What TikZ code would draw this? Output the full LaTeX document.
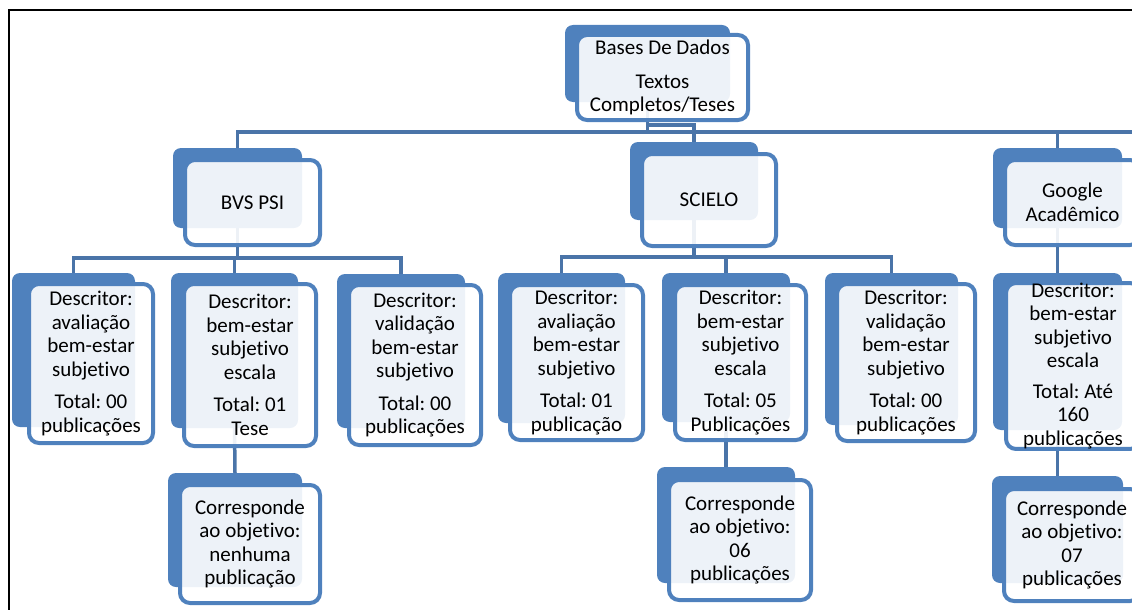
\documentclass[tikz,border=0pt]{standalone}
\usepackage{fontspec}
\setmainfont{Carlito}[Ligatures=NoCommon]
\usepackage{tikz}
\usetikzlibrary{backgrounds}
\frenchspacing
\definecolor{boxblue}{HTML}{4F81BD}
\definecolor{lineblue}{HTML}{4A74A8}
\tikzstyle{shadowbox}=[fill=boxblue,rounded corners=8pt,inner sep=0pt]
\tikzstyle{textbox}=[draw=boxblue,line width=4pt,fill=white,fill opacity=0.9,text opacity=1,rounded corners=10pt,inner sep=0pt,align=center,font=\fontsize{21}{23.5}\selectfont]
\tikzstyle{link}=[draw=lineblue,line width=3.5pt]

\begin{document}
\begin{tikzpicture}[x=1pt,y=-1pt]
      \useasboundingbox (0,0) rectangle (1132,610);
      \draw[line width=2pt] (1140,10.5) -- (9,10.5) -- (9,620);

      % shadow shapes
      \node[shadowbox,minimum width=165,minimum height=77] (bases) at (647.5,63.5) {};
      \node[shadowbox,minimum width=129,minimum height=80] (bvs) at (237.5,188) {};
      \node[shadowbox,minimum width=128,minimum height=78] (scielo) at (694,181) {};
      \node[shadowbox,minimum width=129,minimum height=80] (google) at (1057.5,188) {};
      \node[shadowbox,minimum width=123,minimum height=154] (a1) at (73.5,350) {};
      \node[shadowbox,minimum width=127,minimum height=155] (a2) at (234.5,350.5) {};
      \node[shadowbox,minimum width=134,minimum height=114] (a2c) at (235,530) {};
      \node[shadowbox,minimum width=128,minimum height=154] (a3) at (401,351) {};
      \node[shadowbox,minimum width=127,minimum height=150] (b1) at (561.5,348) {};
      \node[shadowbox,minimum width=128,minimum height=149] (b2) at (726,347.5) {};
      \node[shadowbox,minimum width=138,minimum height=116] (b2c) at (726,525) {};
      \node[shadowbox,minimum width=133,minimum height=152] (b3) at (891.5,349) {};
      \node[shadowbox,minimum width=129,minimum height=157] (c1) at (1057.5,351.5) {};
      \node[shadowbox,minimum width=131,minimum height=107] (c1c) at (1057.5,529.5) {};

      % connectors
      \begin{scope}[on background layer]
        \coordinate (bus1) at (1140,132);
        \coordinate (bus2) at (0,258);
        \coordinate (bus3) at (0,257);
        \draw[link] (bases.south) -- (bases.south |- bus1);
        \draw[link] (scielo.north) -- ++(0,-17) -| (bases.south);
        \draw[link] (bvs.north) |- (bus1);
        \draw[link] (google.north) -- (google.north |- bus1);
        \draw[link] (a1.north) |- (bus2 -| a3.north) -- (a3.north);
        \draw[link] (bvs.south) -- (bvs.south |- bus2);
        \draw[link] (a2.north) -- (a2.north |- bus2);
        \draw[link] (b1.north) |- (bus3 -| b3.north) -- (b3.north);
        \draw[link] (scielo.south) -- (scielo.south |- bus3);
        \draw[link] (b2.north) -- (b2.north |- bus3);
        \draw[link] (google.south) -- (c1.north);
        \draw[link] (a2.south) -- (a2c.north);
        \draw[link] (b2.south) -- (b2c.north);
        \draw[link] (c1.south) -- (c1c.north);
      \end{scope}

      % text boxes
      \node[textbox,minimum width=171,minimum height=85] (basest) at (662.5,77.5) {Bases De Dados\\[10pt]Textos\\Completos/Teses};
      \node[textbox,minimum width=135,minimum height=85] (bvst) at (252.5,202.5) {BVS PSI};
      \node[textbox,minimum width=134,minimum height=92] (scielot) at (709,200) {SCIELO};
      \node[textbox,minimum width=135,minimum height=85] (googlet) at (1072.5,202.5) {Google\\Acadêmico};
      \node[textbox,minimum width=124,minimum height=159] (a1t) at (91,363.5) {Descritor:\\avaliação\\bem-estar\\subjetivo\\[9pt]Total: 00\\publicações};
      \node[textbox,minimum width=132,minimum height=162] (a2t) at (250,365) {Descritor:\\bem-estar\\subjetivo\\escala\\[9pt]Total: 01\\Tese};
      \node[textbox,minimum width=140,minimum height=118] (a2ct) at (250,544) {Corresponde\\ao objetivo:\\nenhuma\\publicação};
      \node[textbox,minimum width=132,minimum height=160] (a3t) at (415,365) {Descritor:\\validação\\bem-estar\\subjetivo\\[9pt]Total: 00\\publicações};
      \node[textbox,minimum width=133,minimum height=155] (b1t) at (576.5,362.5) {Descritor:\\avaliação\\bem-estar\\subjetivo\\[9pt]Total: 01\\publicação};
      \node[textbox,minimum width=131,minimum height=155] (b2t) at (740.5,362.5) {Descritor:\\bem-estar\\subjetivo\\escala\\[9pt]Total: 05\\Publicações};
      \node[textbox,minimum width=142,minimum height=120] (b2ct) at (740,540) {Corresponde\\ao objetivo:\\06\\publicações};
      \node[textbox,minimum width=138,minimum height=157] (b3t) at (906,362.5) {Descritor:\\validação\\bem-estar\\subjetivo\\[9pt]Total: 00\\publicações};
      \node[textbox,minimum width=134,minimum height=164] (c1t) at (1073,366) {Descritor:\\bem-estar\\subjetivo\\escala\\[7pt]Total: Até\\160\\publicações};
      \node[textbox,minimum width=136,minimum height=112] (c1ct) at (1072,545) {Corresponde\\ao objetivo:\\07\\publicações};
    \end{tikzpicture}
\end{document}
